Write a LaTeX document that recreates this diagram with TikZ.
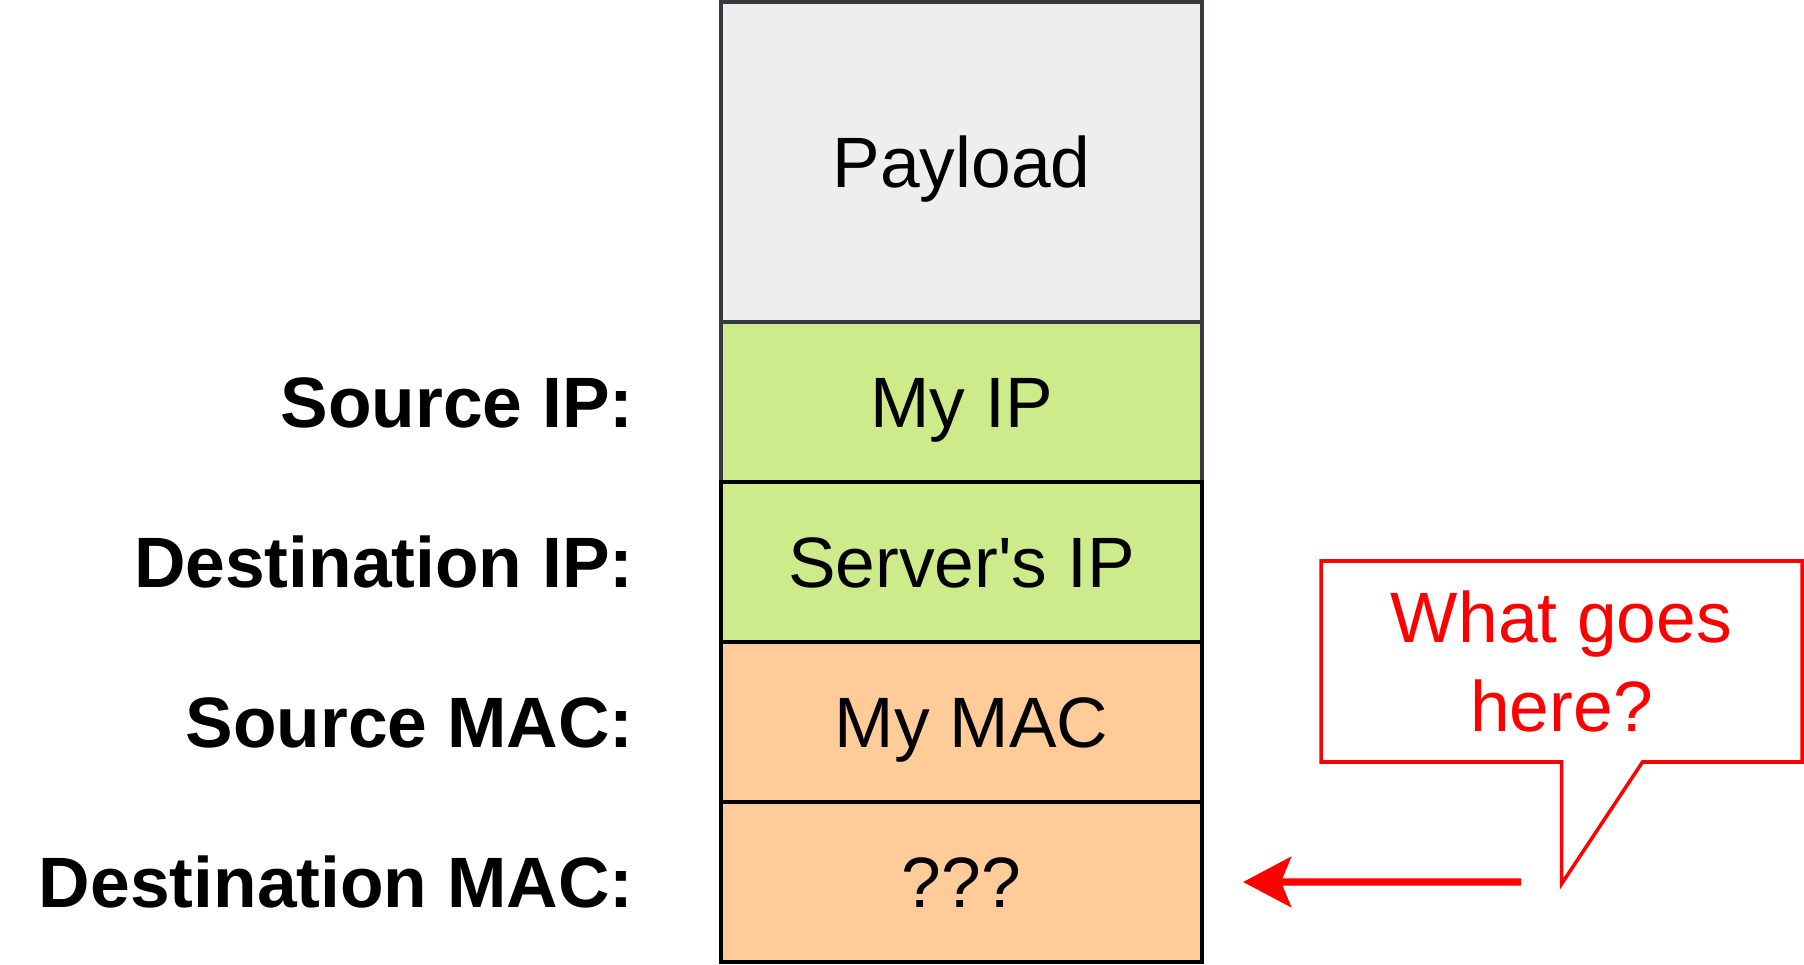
\documentclass[tikz,border=0pt]{standalone}
\usepackage{fontspec}
\setmainfont{Liberation Sans}
\usetikzlibrary{positioning, arrows.meta, calc}
\usepackage{xcolor}
\definecolor{pktgray}{HTML}{EEEEEE}
\definecolor{pktgreen}{HTML}{CDEB8B}
\definecolor{pktorange}{HTML}{FFCC99}
\definecolor{pktborder}{HTML}{36393D}
\definecolor{pktred}{HTML}{FF0000}
\tikzset{
  field/.style={draw=black, line width=0.9pt, minimum width=4.81cm,
                minimum height=1.6cm, inner sep=0pt, outer sep=0pt,
                font=\fontsize{20.3}{25.2}\selectfont, text height=0.51cm, text depth=0pt},
  fieldlabel/.style={font=\fontsize{20.3}{25.2}\selectfont\bfseries, inner sep=0pt,
                outer sep=0pt, text height=0.51cm, text depth=0pt}
}

\begin{document}
\begin{tikzpicture}
        \useasboundingbox (0,0) rectangle (18.04,9.64);
        \node[field, fill=pktgray, draw=pktborder, minimum height=3.2cm] (payload) at (9.615,8.02) {Payload};
        \node[field, fill=pktgreen, draw=pktborder, below=0pt of payload] (myip) {My IP};
        \node[field, fill=pktgreen, below=0pt of myip] (serverip) {Server\textquotesingle s IP};
        \node[field, fill=pktorange, below=0pt of serverip] (mymac) {\hspace{0.2cm}My MAC};
        \node[field, fill=pktorange, below=0pt of mymac] (unknown) {???};

        \node[fieldlabel, left=0.875cm of myip] (srcip) {Source IP:};
        \node[fieldlabel, left=0.875cm of serverip] (dstip) {Destination IP:};
        \node[fieldlabel, left=0.875cm of mymac] (srcmac) {Source MAC:};
        \node[fieldlabel, left=0.875cm of unknown] (dstmac) {Destination MAC:};

        \node[text=pktred, font=\fontsize{20.3}{25.2}\selectfont, align=center,
              minimum width=4.81cm, minimum height=2.01cm, inner sep=0pt,
              outer sep=0pt] (question) at (15.615,3.025) {What goes\\here?};
        \coordinate (tailright) at ($(question.south)+(0.81,0)$);
        \coordinate (tailtip) at ($(question.south)+(0,-1.22)$);
        \draw[pktred, line width=1pt] (question.north west) -- (question.north east)
              -- (question.south east) -- (tailright) -- (tailtip)
              -- (question.south) -- (question.south west) -- cycle;

        \coordinate (arrowstart) at (15.21,0.82);
        \draw[pktred, line width=2.1pt, -{Stealth[length=0.48cm, width=0.5cm, inset=0.1cm]}]
              (arrowstart) -- ($(unknown.east)+(0.41,0)$);
      \end{tikzpicture}
\end{document}
